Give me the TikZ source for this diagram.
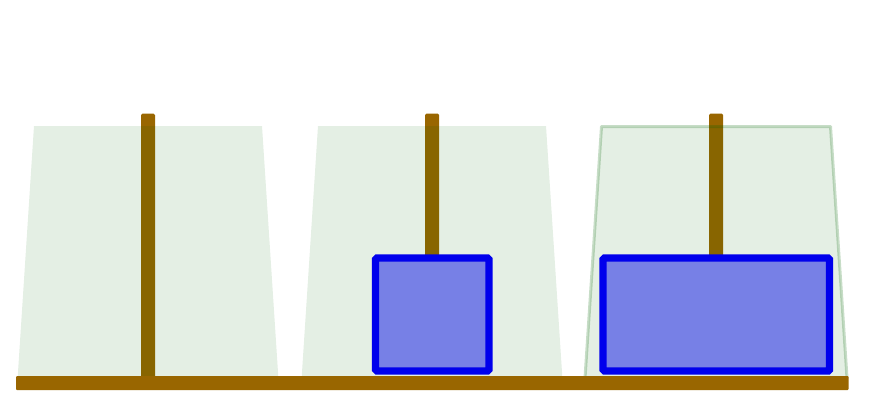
\documentclass[tikz,border=0pt]{standalone}
\definecolor{pegbrown}{RGB}{153,102,0}
\definecolor{trapgreen}{RGB}{0,100,0}
\definecolor{diskedge}{RGB}{0,0,236}
\definecolor{diskfill}{RGB}{119,128,230}
\tikzset{
  peg/.style={fill=pegbrown, draw=none, rounded corners=1.5pt},
  trap/.style={fill=trapgreen, fill opacity=0.106, draw=none},
  traphl/.style={trap, draw=trapgreen, draw opacity=0.22, line width=3pt, line join=round},
  disk/.style={fill=diskfill, draw=diskedge, line width=7.4pt, rounded corners=1.5pt},
}
\begin{document}
\begin{tikzpicture}[x=1pt,y=-1pt]
\useasboundingbox (0,0) rectangle (872,407);
% pegs
\path[peg] (141,113.5) rectangle (155,383);
\path[peg] (425,113.5) rectangle (439,262);
\path[peg] (709,113.5) rectangle (723,262);
% trapezoids
\path[trap] (34,126) -- (262,126) -- (278.5,380) -- (17.5,380) -- cycle;
\path[trap] (318,126) -- (546,126) -- (562.5,380) -- (301.5,380) -- cycle;
\path[traphl] (601.5,126.5) -- (830.5,126.5) -- (847,378) -- (585,378) -- cycle;
% base
\path[peg, rounded corners=1pt] (16,376) rectangle (848.5,390);
% disks
\draw[disk] (375.5,258) rectangle (489,371);
\draw[disk] (603,258) rectangle (829.5,371);
\end{tikzpicture}
\end{document}
